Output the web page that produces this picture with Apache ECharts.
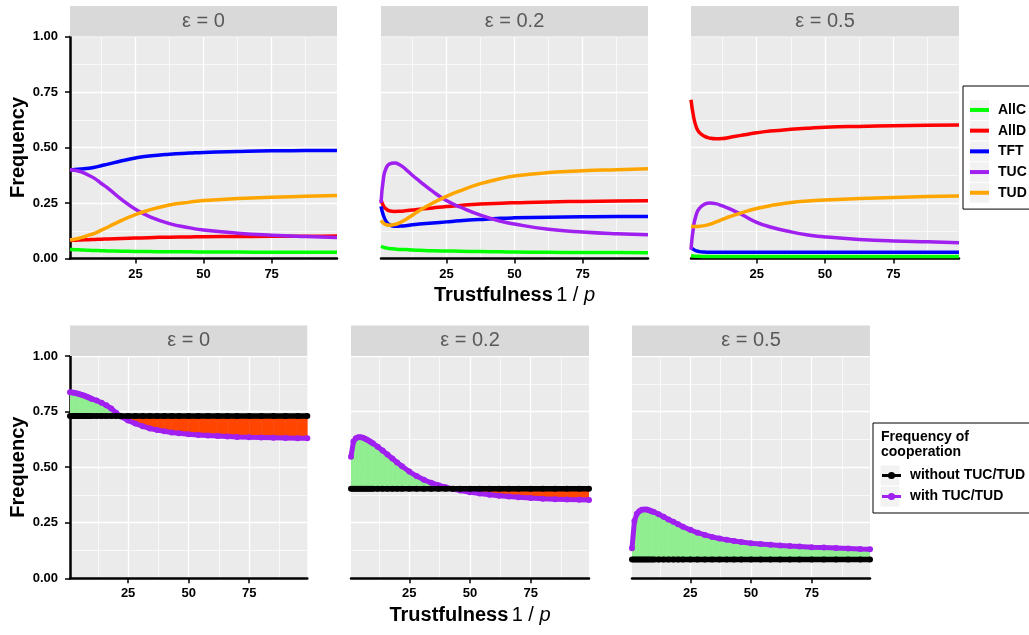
<!DOCTYPE html>
<html><head><meta charset="utf-8">
<script src="https://cdn.jsdelivr.net/npm/echarts@6/dist/echarts.min.js"></script>
<style>html,body{margin:0;padding:0;background:#fff}#c{width:1029px;height:635px}</style>
</head><body><div id="c"></div>
<script>
// ---------- DATA ----------
const panelLabels = ['ε = 0', 'ε = 0.2', 'ε = 0.5'];
const strategies = ['AllC', 'AllD', 'TFT', 'TUC', 'TUD'];
const coopNames = ['without TUC/TUD', 'with TUC/TUD'];
const xTicks = [25, 50, 75];
const xMinorTicks = [12.5, 37.5, 62.5, 87.5];

// top row: strategy frequencies
const xTop = [1, 2, 3, 4, 6, 8, 10, 12.5, 15, 20, 25, 30, 37.5, 45, 50, 62.5, 75, 87.5, 99];

const AllC_e0 = [0.040,0.040,0.039,0.039,0.038,0.037,0.036,0.035,0.034,0.033,0.032,0.031,0.030,0.030,0.029,0.029,0.028,0.028,0.028];
const AllD_e0 = [0.081,0.082,0.082,0.083,0.084,0.085,0.086,0.087,0.088,0.090,0.092,0.094,0.096,0.097,0.098,0.099,0.100,0.100,0.101];
const TFT_e0  = [0.400,0.400,0.401,0.402,0.404,0.407,0.411,0.418,0.425,0.440,0.453,0.462,0.470,0.475,0.478,0.482,0.485,0.486,0.487];
const TUC_e0  = [0.400,0.399,0.397,0.394,0.386,0.374,0.361,0.338,0.316,0.265,0.222,0.190,0.157,0.138,0.128,0.114,0.105,0.099,0.095];
const TUD_e0  = [0.085,0.086,0.088,0.090,0.097,0.105,0.113,0.128,0.142,0.172,0.198,0.218,0.241,0.254,0.261,0.270,0.276,0.280,0.284];

const AllC_e02 = [0.055,0.050,0.047,0.045,0.043,0.041,0.040,0.038,0.037,0.035,0.034,0.033,0.031,0.030,0.029,0.028,0.027,0.027,0.026];
const AllD_e02 = [0.265,0.235,0.222,0.215,0.212,0.213,0.215,0.218,0.222,0.228,0.234,0.239,0.245,0.249,0.251,0.255,0.257,0.259,0.260];
const TFT_e02  = [0.235,0.190,0.165,0.153,0.145,0.146,0.148,0.152,0.155,0.160,0.165,0.170,0.176,0.181,0.183,0.186,0.188,0.189,0.189];
const TUC_e02  = [0.250,0.370,0.410,0.425,0.430,0.421,0.403,0.375,0.350,0.302,0.261,0.232,0.195,0.168,0.155,0.132,0.119,0.111,0.107];
const TUD_e02  = [0.172,0.158,0.152,0.150,0.153,0.162,0.175,0.195,0.215,0.250,0.280,0.305,0.337,0.360,0.372,0.387,0.395,0.400,0.404];

const AllC_e05 = [0.012,0.011,0.010,0.010,0.009,0.009,0.009,0.009,0.009,0.009,0.009,0.009,0.009,0.009,0.009,0.009,0.009,0.009,0.009];
const AllD_e05 = [0.715,0.635,0.590,0.568,0.550,0.542,0.539,0.540,0.545,0.556,0.566,0.574,0.582,0.588,0.591,0.595,0.598,0.600,0.601];
const TFT_e05  = [0.050,0.040,0.034,0.031,0.029,0.028,0.028,0.028,0.028,0.028,0.028,0.028,0.028,0.028,0.028,0.028,0.028,0.028,0.028];
const TUC_e05  = [0.040,0.150,0.200,0.225,0.245,0.250,0.247,0.237,0.225,0.195,0.163,0.142,0.120,0.104,0.097,0.086,0.079,0.075,0.071];
const TUD_e05  = [0.145,0.144,0.144,0.145,0.148,0.155,0.164,0.176,0.188,0.208,0.225,0.238,0.252,0.260,0.264,0.270,0.275,0.279,0.281];

// bottom row: frequency of cooperation
const xBot = [1,2,3,4,5,6,7,8,9,10,12,14,16,18,20,22,25,28,31,34,37,40,43,46,50,54,58,62,66,70,75,80,85,90,95,99];

const withTUC_e0  = [0.837,0.836,0.834,0.831,0.828,0.825,0.821,0.817,0.812,0.807,0.800,0.790,0.778,0.764,0.745,0.728,0.710,0.696,0.684,0.674,0.667,0.661,0.656,0.652,0.648,0.645,0.642,0.640,0.638,0.636,0.634,0.633,0.632,0.631,0.630,0.630];
const withoutTUC_e0 = [0.730,0.730,0.730,0.730,0.730,0.730,0.730,0.730,0.730,0.730,0.730,0.730,0.730,0.730,0.730,0.730,0.730,0.730,0.730,0.730,0.730,0.730,0.730,0.730,0.730,0.730,0.730,0.730,0.730,0.730,0.730,0.730,0.730,0.730,0.730,0.730];
const withTUC_e02 = [0.547,0.615,0.630,0.635,0.635,0.632,0.627,0.621,0.614,0.607,0.592,0.575,0.557,0.539,0.521,0.504,0.480,0.460,0.443,0.430,0.419,0.410,0.402,0.395,0.387,0.381,0.376,0.371,0.368,0.365,0.361,0.358,0.356,0.354,0.353,0.352];
const withoutTUC_e02 = [0.403,0.403,0.403,0.403,0.403,0.403,0.403,0.403,0.403,0.403,0.403,0.403,0.403,0.403,0.403,0.403,0.403,0.403,0.403,0.403,0.403,0.403,0.403,0.403,0.403,0.403,0.403,0.403,0.403,0.403,0.403,0.403,0.403,0.403,0.403,0.403];
const withTUC_e05 = [0.135,0.258,0.290,0.302,0.308,0.310,0.309,0.306,0.302,0.298,0.288,0.277,0.265,0.254,0.243,0.232,0.218,0.205,0.195,0.186,0.179,0.173,0.168,0.163,0.158,0.154,0.151,0.148,0.145,0.143,0.140,0.138,0.136,0.134,0.132,0.131];
const withoutTUC_e05 = [0.085,0.085,0.085,0.085,0.085,0.085,0.085,0.085,0.085,0.085,0.085,0.085,0.085,0.085,0.085,0.085,0.085,0.085,0.085,0.085,0.085,0.085,0.085,0.085,0.085,0.085,0.085,0.085,0.085,0.085,0.085,0.085,0.085,0.085,0.085,0.085];

// ---------- STYLE / LAYOUT ----------
const FONT = '"Liberation Sans", Arial, sans-serif';
const stratColors = {AllC:'#00FF00', AllD:'#FF0000', TFT:'#0000FF', TUC:'#A020F0', TUD:'#FFA500'};
const GREEN = '#90EE90', RED = '#FF4500', PURPLE = '#A020F0';
const topData = [
  {AllC:AllC_e0, AllD:AllD_e0, TFT:TFT_e0, TUC:TUC_e0, TUD:TUD_e0},
  {AllC:AllC_e02, AllD:AllD_e02, TFT:TFT_e02, TUC:TUC_e02, TUD:TUD_e02},
  {AllC:AllC_e05, AllD:AllD_e05, TFT:TFT_e05, TUC:TUC_e05, TUD:TUD_e05}
];
const botData = [
  {w:withTUC_e0, wo:withoutTUC_e0},
  {w:withTUC_e02, wo:withoutTUC_e02},
  {w:withTUC_e05, wo:withoutTUC_e05}
];
const grids = [
  {left:70, top:36.5, width:267, height:222},
  {left:381, top:36.5, width:267, height:222},
  {left:691, top:36.5, width:268, height:222},
  {left:70, top:356, width:237.3, height:222.3},
  {left:351, top:356, width:238, height:222.3},
  {left:632, top:356, width:238, height:222.3}
];
const STRIP_H = 30.5;

const chart = echarts.init(document.getElementById('c'), null, {renderer:'canvas'});

const grid = [], xAxis = [], yAxis = [], series = [], graphic = [];
const xName = {
  name: '{b|Trustfulness} {r|1 / }{i|p}',
  nameLocation: 'middle', nameGap: 27,
  nameTextStyle: { rich: {
    b: {fontFamily: FONT, fontSize: 20, fontWeight: 'bold', color: '#000'},
    r: {fontFamily: FONT, fontSize: 20, color: '#000'},
    i: {fontFamily: FONT, fontSize: 20, fontStyle: 'italic', color: '#000'}
  }}
};

grids.forEach((g, gi) => {
  grid.push({left:g.left, top:g.top, width:g.width, height:g.height, show:true,
    backgroundColor:'#EBEBEB', borderWidth:0, containLabel:false});
  const main = {
    type:'value', gridIndex:gi, min:1, max:99, position:'bottom',
    axisLine:{show:true, onZero:false, lineStyle:{color:'#000', width:2.5}},
    axisTick:{show:true, length:5, customValues:xTicks, lineStyle:{color:'#000', width:1.5}},
    axisLabel:{show:true, customValues:xTicks, color:'#000', fontFamily:FONT, fontWeight:'bold', fontSize:13, margin:9},
    splitLine:{show:true, lineStyle:{color:'#FFFFFF', width:1.3}}
  };
  if (gi === 1 || gi === 4) Object.assign(main, xName);
  xAxis.push(main);
  xAxis.push({
    type:'value', gridIndex:gi, min:1, max:99,
    axisLine:{show:false}, axisTick:{show:false, customValues:xMinorTicks},
    axisLabel:{show:false, customValues:xMinorTicks},
    splitLine:{show:true, lineStyle:{color:'#FFFFFF', width:0.7}}
  });
  const first = (gi === 0 || gi === 3);
  yAxis.push({
    type:'value', gridIndex:gi, min:0, max:1, interval:0.25,
    axisLine:{show:first, onZero:false, lineStyle:{color:'#000', width:2.5}},
    axisTick:{show:first, length:5, lineStyle:{color:'#000', width:1.5}},
    axisLabel:{show:first, formatter:v => v.toFixed(2), color:'#000', fontFamily:FONT, fontWeight:'bold', fontSize:13, margin:12},
    splitLine:{show:true, lineStyle:{color:'#FFFFFF', width:1.3}},
    minorTick:{show:false, splitNumber:2},
    minorSplitLine:{show:true, lineStyle:{color:'#FFFFFF', width:0.7}},
    name: first ? 'Frequency' : '', nameLocation:'middle', nameGap:42,
    nameTextStyle:{fontFamily:FONT, fontSize:20, fontWeight:'bold', color:'#000'}
  });
  // strip
  graphic.push({type:'rect', z:1, shape:{x:g.left, y:g.top - STRIP_H, width:g.width, height:STRIP_H}, style:{fill:'#D9D9D9'}});
  graphic.push({type:'text', z:2, x:g.left + g.width/2, y:g.top - STRIP_H/2,
    style:{text:panelLabels[gi % 3], fontFamily:FONT, fontSize:20, fill:'#595959', align:'center', verticalAlign:'middle'}});
});

// top-row lines
topData.forEach((d, p) => {
  strategies.forEach(s => {
    series.push({
      type:'line', name:s, xAxisIndex:2*p, yAxisIndex:p,
      data:xTop.map((x, i) => [x, d[s][i]]),
      symbol:'none', showSymbol:false, smooth:0.5, clip:true,
      lineStyle:{width:3.5, color:stratColors[s], cap:'butt', join:'round'}, itemStyle:{color:stratColors[s]},
      z:3, silent:true
    });
  });
});

// bottom-row fills + lines
botData.forEach((d, p) => {
  const gi = p + 3;
  series.push({
    type:'custom', name:'fill', xAxisIndex:2*gi, yAxisIndex:gi, clip:true, silent:true, z:1,
    encode:{x:0, y:1},
    data:xBot.slice(0, -1).map((x, i) => [x, d.w[i]]),
    renderItem:function (params, api) {
      const i = params.dataIndex;
      const x0 = xBot[i], x1 = xBot[i+1];
      const a0 = d.w[i], a1 = d.w[i+1], b0 = d.wo[i], b1 = d.wo[i+1];
      const d0 = a0 - b0, d1 = a1 - b1;
      const col = v => v >= 0 ? GREEN : RED;
      const polys = [];
      if (d0 * d1 >= 0) {
        polys.push({pts:[[x0,a0],[x1,a1],[x1,b1],[x0,b0]], c:col(d0 !== 0 ? d0 : d1)});
      } else {
        const t = d0 / (d0 - d1);
        const xc = x0 + t*(x1 - x0), yc = a0 + t*(a1 - a0);
        polys.push({pts:[[x0,a0],[xc,yc],[x0,b0]], c:col(d0)});
        polys.push({pts:[[xc,yc],[x1,a1],[x1,b1]], c:col(d1)});
      }
      return {type:'group', children:polys.map(pp => ({
        type:'polygon', shape:{points:pp.pts.map(q => api.coord(q))},
        style:{fill:pp.c, stroke:pp.c, lineWidth:0.6}
      }))};
    }
  });
  series.push({
    type:'line', name:coopNames[1], xAxisIndex:2*gi, yAxisIndex:gi,
    data:xBot.map((x, i) => [x, d.w[i]]),
    symbol:'circle', symbolSize:6, showSymbol:true, clip:true,
    lineStyle:{width:5, color:PURPLE}, itemStyle:{color:PURPLE}, z:3, silent:true
  });
  series.push({
    type:'line', name:coopNames[0], xAxisIndex:2*gi, yAxisIndex:gi,
    data:xBot.map((x, i) => [x, d.wo[i]]),
    symbol:'circle', symbolSize:6, showSymbol:true, clip:true,
    lineStyle:{width:5.5, color:'#000'}, itemStyle:{color:'#000'}, z:4, silent:true
  });
});

// legend key backgrounds
const TOP_ROW_H = 20.7, TOP_LEG_TOP = 86, TOP_PAD_T = 13.6;
strategies.forEach((s, i) => {
  graphic.push({type:'rect', z:1, shape:{x:970, y:TOP_LEG_TOP + TOP_PAD_T + i*TOP_ROW_H + 0.5, width:19, height:TOP_ROW_H - 1}, style:{fill:'#F2F2F2'}});
});
const BOT_ROW_H = 21, BOT_LEG_TOP = 423, BOT_PAD_T = 42;
coopNames.forEach((s, i) => {
  graphic.push({type:'rect', z:1, shape:{x:880.5, y:BOT_LEG_TOP + BOT_PAD_T + i*BOT_ROW_H + 0.5, width:19, height:BOT_ROW_H - 1}, style:{fill:'#F2F2F2'}});
});
graphic.push({type:'text', z:5, x:881, y:429,
  style:{text:'Frequency of\ncooperation', fontFamily:FONT, fontSize:14, fontWeight:'bold', fill:'#000', lineHeight:15.6, align:'left', verticalAlign:'top'}});

const legendText = {fontFamily:FONT, fontSize:14, fontWeight:'bold', color:'#000', padding:[0,0,0,4]};
const option = {
  animation:false,
  backgroundColor:'#FFFFFF',
  textStyle:{fontFamily:FONT},
  grid, xAxis, yAxis, series,
  legend:[
    {data:strategies, orient:'vertical', left:963, top:TOP_LEG_TOP, padding:[TOP_PAD_T, 12, 6, 7],
     itemGap:0, itemWidth:19, itemHeight:4, icon:'rect', selectedMode:false,
     textStyle:Object.assign({lineHeight:TOP_ROW_H}, legendText),
     borderColor:'#000', borderWidth:1, backgroundColor:'transparent'},
    {data:coopNames, orient:'vertical', left:873, top:BOT_LEG_TOP, padding:[BOT_PAD_T, 8, 6, 7.5],
     itemGap:0, itemWidth:19, itemHeight:9, selectedMode:false,
     lineStyle:{width:3}, itemStyle:{borderWidth:0},
     textStyle:Object.assign({lineHeight:BOT_ROW_H}, legendText),
     borderColor:'#000', borderWidth:1, backgroundColor:'transparent'}
  ],
  graphic:{elements:graphic}
};
chart.setOption(option);
</script>
</body></html>
